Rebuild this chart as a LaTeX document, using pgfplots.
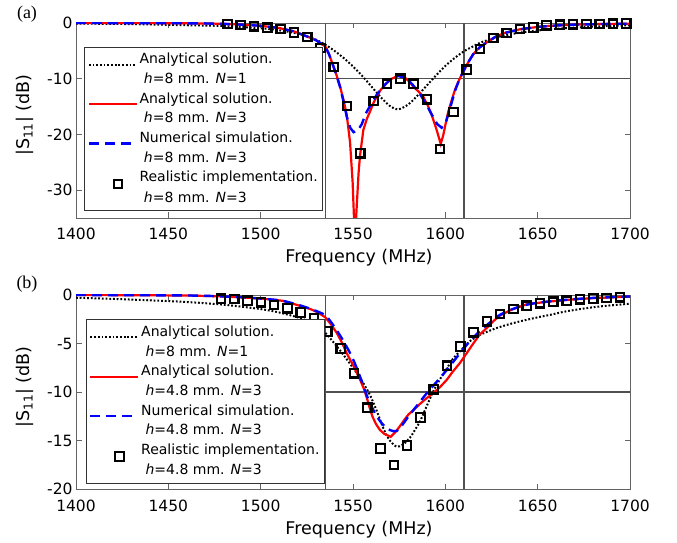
\documentclass[border=0pt]{standalone}
\usepackage{fontspec}
\setmainfont{DejaVu Sans}
\newfontfamily\tnr{Liberation Serif}
\usepackage{pgfplots}
\pgfplotsset{compat=1.18}
\definecolor{axgray}{RGB}{100,100,100}
\definecolor{refgray}{RGB}{80,80,80}

\pgfplotsset{
  sparam/.style={
    scale only axis, width=554pt,
    xmin=1400, xmax=1700, xtick={1400,1450,...,1700},
    axis line style={axgray, line width=0.8pt},
    every tick/.style={axgray, line width=0.8pt},
    major tick length=5.5pt,
    tick align=inside,
    /pgf/number format/assume math mode=true,
    /pgf/number format/1000 sep={},
    tick label style={font=\fontsize{15.5}{18}\selectfont},
    xticklabel style={inner sep=0pt, anchor=north, yshift=-10pt},
    yticklabel style={inner sep=0pt, anchor=east, xshift=-3.3pt},
    label style={font=\fontsize{17.5}{20}\selectfont},
    xlabel={Frequency (MHz)},
    ylabel={|S\textsubscript{11}| (dB)},
    xlabel style={at={(axis description cs:0.5,0)}, anchor=center, yshift=-40pt, xshift=6pt},
    ylabel style={at={(axis description cs:-0.092,0.527)}, anchor=center},
    legend style={anchor=north west, draw=black!80, line width=0.6pt, fill=white,
      inner xsep=3pt, inner ysep=2.8pt, row sep=0pt, column sep=0pt,
      nodes={inner xsep=1.5pt, inner ysep=0pt, text height=14pt, text depth=5.7pt},
      font=\fontsize{14}{19}\selectfont},
    legend cell align=left,
  },
  lineleg/.style={legend image code/.code={\draw[##1] (0pt,-5pt) -- (48pt,-5pt);}},
  markleg/.style={legend image code/.code={\draw[##1] plot coordinates {(29pt,-6pt)};}},
  dotc/.style={black, line width=2pt, dash pattern=on 1.8pt off 1.9pt, lineleg},
  redc/.style={red, line width=2.2pt, lineleg},
  bluec/.style={blue, line width=2.4pt, dash pattern=on 10pt off 6pt, lineleg},
  sqc/.style={black, only marks, mark=square, mark size=4.2pt, mark options={line width=2.2pt, solid}, markleg},
  refl/.style={refgray, line width=1.5pt, forget plot},
}

\begin{document}
\begin{tikzpicture}
\useasboundingbox (0pt,0pt) rectangle (677pt,543pt);

% ---------------- (a) ----------------
\begin{axis}[sparam, at={(76pt,325pt)}, anchor=south west, height=195pt,
  ymin=-35, ymax=0, ytick={-30,-20,-10,0},
  legend style={at={(axis description cs:0.015,0.8785)}}]
\addplot[refl] coordinates {(1535,-35) (1535,0)};
\addplot[refl] coordinates {(1610,-35) (1610,0)};
\addplot[refl] coordinates {(1535,-10) (1700,-10)};

\addplot[dotc, smooth] coordinates {
 (1400,-0.1) (1430,-0.2) (1460,-0.4) (1480,-0.55) (1500,-0.95) (1510,-1.3)
 (1520,-1.9) (1525,-2.4) (1530,-3.0) (1535,-3.9) (1540,-5.0) (1545,-6.3)
 (1550,-7.8) (1555,-9.5) (1560,-11.4) (1565,-13.3) (1570,-14.9) (1574.5,-15.5)
 (1580,-14.6) (1585,-13.0) (1590,-11.2) (1595,-9.4) (1600,-7.7) (1605,-6.3)
 (1610,-5.1) (1615,-4.2) (1620,-3.4) (1630,-2.4) (1640,-1.75) (1650,-1.35)
 (1660,-1.05) (1680,-0.65) (1700,-0.4)};
\addlegendentry{Analytical solution.}
\addlegendimage{empty legend}
\addlegendentry{\ \textit{h}=8 mm. \textit{N}=1}

\addplot[redc] coordinates {
 (1400,0) (1450,-0.03) (1470,-0.08) (1480,-0.15) (1490,-0.3) (1500,-0.5)
 (1510,-0.9) (1518,-1.5) (1525,-2.4) (1530,-3.1) (1535,-4.2) (1537,-5.6)
 (1539.3,-7.7) (1541,-9.3) (1543,-11.4) (1545,-14) (1546.6,-16.5) (1548.4,-21.4)
 (1549.8,-28.6) (1550.5,-34.7) (1551.2,-38) (1552,-33) (1553,-27) (1553.8,-23.8)
 (1555.6,-19.2) (1557.5,-17.2) (1559.2,-15.9) (1561,-14.4) (1562.8,-13.2)
 (1565,-12) (1568.2,-10.8) (1571,-10) (1574.5,-9.45) (1578,-9.8) (1580.5,-10.5)
 (1582.6,-11.4) (1585.5,-12.3) (1588,-13.2) (1590.5,-14.8) (1592.6,-16.5)
 (1595.3,-19.2) (1597.5,-21.7) (1598.9,-20.1) (1600.2,-18) (1601.6,-15.9)
 (1603.5,-13.8) (1605.2,-12.0) (1607.5,-10.2) (1609.7,-8.7) (1612.5,-7.0)
 (1615.1,-5.6) (1618.5,-4.4) (1622.4,-3.5) (1627,-2.5) (1632,-1.8) (1640,-1.15)
 (1650,-0.7) (1660,-0.45) (1670,-0.3) (1685,-0.18) (1700,-0.12)};
\addlegendentry{Analytical solution.}
\addlegendimage{empty legend}
\addlegendentry{\ \textit{h}=8 mm. \textit{N}=3}

\addplot[bluec] coordinates {
 (1400,0) (1450,-0.03) (1470,-0.08) (1480,-0.15) (1490,-0.3) (1500,-0.5)
 (1510,-0.9) (1518,-1.5) (1525,-2.4) (1530,-3.1) (1535,-4.2) (1537,-5.6)
 (1539.3,-7.7) (1541,-9.3) (1543,-11.5) (1545,-14.3) (1546.6,-16.8) (1548.5,-18.8)
 (1550.3,-19.6) (1552.5,-19.3) (1554.7,-18.2) (1557,-16.2) (1559.2,-14.9)
 (1562.8,-12.9) (1566,-11.5) (1570,-10.2) (1574.5,-9.5) (1579,-9.9) (1582.6,-11.2)
 (1586,-12.6) (1589.5,-14.5) (1592.6,-16.4) (1595.5,-18.1) (1598,-18.8)
 (1600.5,-17.6) (1602.5,-15.4) (1605.2,-12.2) (1607.5,-10.2) (1609.7,-8.7)
 (1612.5,-7.0) (1615.1,-5.6) (1618.5,-4.4) (1622.4,-3.5) (1627,-2.5) (1632,-1.8)
 (1640,-1.15) (1650,-0.7) (1660,-0.45) (1670,-0.3) (1685,-0.18) (1700,-0.12)};
\addlegendentry{Numerical simulation.}
\addlegendimage{empty legend}
\addlegendentry{\ \textit{h}=8 mm. \textit{N}=3}

\addplot[sqc] coordinates {
 (1482,-0.2) (1489.2,-0.35) (1496.4,-0.6) (1503.6,-0.85) (1510.8,-1.1)
 (1518,-1.7) (1525.2,-2.5) (1532.4,-4.5) (1539.6,-7.9) (1546.8,-14.9)
 (1554,-23.4) (1561.2,-14.0) (1568.4,-10.9) (1575.6,-10.0) (1582.8,-10.9)
 (1590,-13.7) (1597.2,-22.6) (1604.4,-16.0) (1611.6,-8.4) (1618.8,-4.7)
 (1626,-2.7) (1633.2,-1.8) (1640.4,-1.1) (1647.6,-0.8) (1654.8,-0.4)
 (1662,-0.3) (1669.2,-0.25) (1676.4,-0.2) (1683.6,-0.15) (1690.8,-0.12)
 (1698,-0.1)};
\addlegendentry{Realistic implementation.}
\addlegendimage{empty legend}
\addlegendentry{\ \textit{h}=8 mm. \textit{N}=3}
\end{axis}

% ---------------- (b) ----------------
\begin{axis}[sparam, at={(76pt,53.7pt)}, anchor=south west, height=194.3pt,
  ymin=-20, ymax=0, ytick={-20,-15,-10,-5,0},
  legend style={at={(axis description cs:0.018,0.875)}}]
\addplot[refl] coordinates {(1535,-20) (1535,0)};
\addplot[refl] coordinates {(1610,-20) (1610,0)};
\addplot[refl] coordinates {(1530,-10) (1700,-10)};

\addplot[dotc, smooth] coordinates {
 (1400,-0.28) (1420,-0.4) (1440,-0.55) (1460,-0.72) (1480,-1.0) (1500,-1.45)
 (1510,-1.8) (1520,-2.3) (1527,-2.8) (1532,-3.4) (1536,-4.1) (1540,-5.0)
 (1545,-6.2) (1550,-7.5) (1555,-8.9) (1559.2,-10.3) (1563,-12.0) (1566.4,-13.7)
 (1570,-15.0) (1573.6,-15.6) (1577,-15.4) (1580.8,-14.7) (1583.5,-13.9)
 (1586.3,-13.0) (1590,-11.4) (1593.5,-9.9) (1597,-8.7) (1600.7,-7.6) (1604,-6.6)
 (1607.9,-5.8) (1613,-4.8) (1618.8,-4.1) (1627.8,-3.4) (1638.6,-2.8) (1650,-2.3)
 (1656.6,-2.05) (1665,-1.7) (1674.7,-1.4) (1685,-1.15) (1700,-0.9)};
\addlegendentry{Analytical solution.}
\addlegendimage{empty legend}
\addlegendentry{\ \textit{h}=8 mm. \textit{N}=1}

\addplot[redc] coordinates {
 (1400,0) (1460,-0.05) (1480,-0.15) (1495,-0.3) (1505,-0.45) (1512,-0.6)
 (1521,-1.1) (1527,-1.45) (1531,-1.8) (1535,-2.3) (1538,-3.0) (1541.2,-3.9)
 (1544,-4.9) (1546.6,-6.0) (1550,-7.2) (1553.8,-8.7) (1556,-9.7) (1557.5,-10.6)
 (1559,-11.6) (1560.5,-12.5) (1562.5,-13.3) (1564.6,-13.9) (1567,-14.3)
 (1570.4,-14.6) (1573,-14.1) (1575.4,-13.5) (1578,-12.8) (1580,-12.3)
 (1583,-11.8) (1586.3,-11.2) (1590,-10.6) (1593.5,-10.1) (1597,-9.5)
 (1600.7,-8.75) (1604,-7.9) (1607.9,-7.0) (1611.5,-6.0) (1615.1,-5.0)
 (1618.5,-4.1) (1622.4,-3.4) (1626,-2.7) (1629.6,-2.1) (1636,-1.5) (1644,-0.96)
 (1655,-0.7) (1665.7,-0.51) (1680,-0.32) (1700,-0.17)};
\addlegendentry{Analytical solution.}
\addlegendimage{empty legend}
\addlegendentry{\ \textit{h}=4.8 mm. \textit{N}=3}

\addplot[bluec, smooth] coordinates {
 (1400,0) (1460,-0.05) (1480,-0.15) (1495,-0.3) (1505,-0.45) (1512,-0.6)
 (1521,-1.05) (1528,-1.5) (1535,-2.1) (1540,-3.3) (1545,-4.8) (1550,-6.6)
 (1555,-9.0) (1558,-10.6) (1562,-12.2) (1566,-13.3) (1570,-13.9) (1573.6,-14.0)
 (1577,-13.3) (1580,-12.5) (1585,-11.3) (1590,-10.1) (1595,-9.0) (1600,-7.9)
 (1605,-6.7) (1610,-5.5) (1615,-4.4) (1620,-3.5) (1625,-2.7) (1630,-2.0)
 (1640,-1.2) (1650,-0.8) (1665,-0.5) (1680,-0.3) (1700,-0.15)};
\addlegendentry{Numerical simulation.}
\addlegendimage{empty legend}
\addlegendentry{\ \textit{h}=4.8 mm. \textit{N}=3}

\addplot[sqc] coordinates {
 (1478.5,-0.38) (1485.7,-0.41) (1492.9,-0.58) (1500.1,-0.75) (1507.3,-1.03)
 (1514.5,-1.37) (1521.7,-1.8) (1528.9,-2.4) (1536.1,-3.75) (1543.3,-5.5)
 (1550.5,-8.06) (1557.7,-11.6) (1564.9,-15.8) (1572.1,-17.5) (1579.3,-15.5)
 (1586.5,-12.6) (1593.7,-9.7) (1600.9,-7.27) (1608.1,-5.3) (1615.3,-3.84)
 (1622.5,-2.7) (1629.7,-1.95) (1636.9,-1.44) (1644.1,-1.1) (1651.3,-0.86)
 (1658.5,-0.69) (1665.7,-0.58) (1672.9,-0.45) (1680.1,-0.36) (1687.3,-0.3)
 (1694.5,-0.24)};
\addlegendentry{Realistic implementation.}
\addlegendimage{empty legend}
\addlegendentry{\ \textit{h}=4.8 mm. \textit{N}=3}
\end{axis}

\node[font=\tnr\fontsize{18}{20}\selectfont] at (27pt,528.5pt) {(a)};
\node[font=\tnr\fontsize{18}{20}\selectfont] at (27pt,258.5pt) {(b)};
\end{tikzpicture}
\end{document}
